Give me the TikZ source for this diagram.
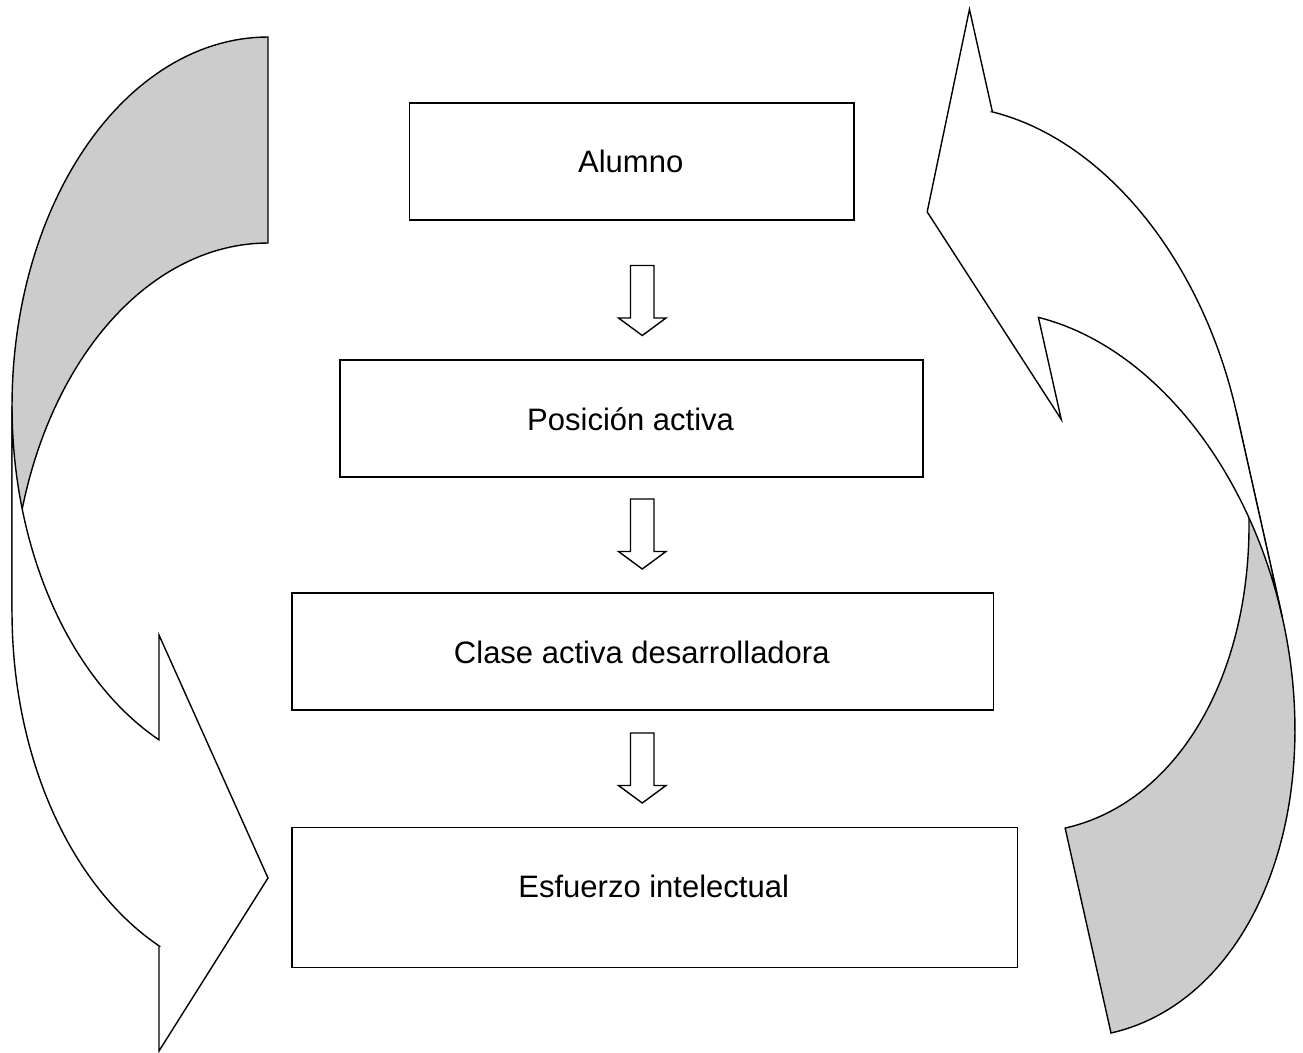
\documentclass[tikz,border=0pt]{standalone}
\usepackage{fontspec}
\setmainfont{Liberation Sans}
\definecolor{shadegray}{HTML}{CCCCCC}
\tikzset{
  outl/.style={draw=black, line width=1.4pt, line join=miter, miter limit=12},
  backpart/.style={outl, fill=shadegray},
  frontpart/.style={outl, fill=white},
  boxnode/.style={draw=black, line width=1.9pt, fill=white, inner sep=0pt, anchor=north west},
  lbl/.style={anchor=base, font=\fontsize{31}{37}\selectfont, inner sep=0pt},
  downarr/.style={outl, fill=white},
}
% #1 a, #2 b1, #3 th, #4 b2, #5 ah, #6 corner1, #7 tip, #8 corner2
\newcommand{\curvedshape}[8]{%
  \pgfmathsetmacro\phiA{180-asin(#5/#1)}%
  \pgfmathsetmacro\phiD{\phiA-90}%
  \pgfmathsetmacro\nB{#3+#4*(1-cos(\phiA))}%
  \path[backpart]
    plot[domain=0:90, samples=60, variable=\t] ({-#1*sin(\t)},{#2*(1-cos(\t))})
    -- plot[domain=0:90, samples=60, variable=\t] ({-#1*cos(\t)},{#3+#4*(1-sin(\t))})
    -- cycle;
  \path[frontpart]
    plot[domain=90:\phiA, samples=50, variable=\t] ({-#1*sin(\t)},{#2*(1-cos(\t))})
    -- (-#5,#6) -- (0,#7) -- (-#5,#8) -- (-#5,\nB)
    -- plot[domain=0:\phiD, samples=50, variable=\t] ({-#1*sin(\phiA-\t)},{#3+#4*(1-cos(\phiA-\t))})
    -- cycle;
}
\newcommand{\downblock}[1]{%
  \draw[downarr] (630.5,#1) -- ++(23.5,0) -- ++(0,52.5) -- ++(12,0)
    -- ++(-23.75,17.5) -- ++(-23.75,-17.5) -- ++(12,0) -- cycle;
}
\begin{document}
\begin{tikzpicture}[x=1pt, y=-1pt]
  \useasboundingbox (0,0) rectangle (1303,1052);
  \fill[white] (0,0) rectangle (1303,1052);

  % left curved arrow
  \begin{scope}[shift={(268,37)}]
    \curvedshape{256}{369}{206}{369}{109}{598}{841}{1014}
  \end{scope}

  % right curved arrow
  \begin{scope}[shift={(1111,1033)}, rotate=-167.38]
    \curvedshape{258}{367.5}{210}{367.8}{85.5}{609.7}{841.5}{1029.9}
  \end{scope}

  % boxes
  \node[boxnode, minimum width=444.5pt, minimum height=117.3pt] (alumno) at (408.5,101.7) {};
  \node[boxnode, minimum width=583pt, minimum height=117pt] (posicion) at (339,358.7) {};
  \node[boxnode, minimum width=701.5pt, minimum height=117pt] (clase) at (291,592) {};
  \node[boxnode, minimum width=725.5pt, minimum height=140pt] (esfuerzo) at (291,826.5) {};

  \node[lbl] (talumno) at (630.7,172) {Alumno};
  \node[lbl] (tposicion) at (630.6,430) {Posición activa};
  \node[lbl] (tclase) at (641.8,663) {Clase activa desarrolladora};
  \node[lbl] (tesfuerzo) at (653.7,897) {Esfuerzo intelectual};

  % small block arrows
  \downblock{265.5}
  \downblock{499}
  \downblock{733}
\end{tikzpicture}
\end{document}
